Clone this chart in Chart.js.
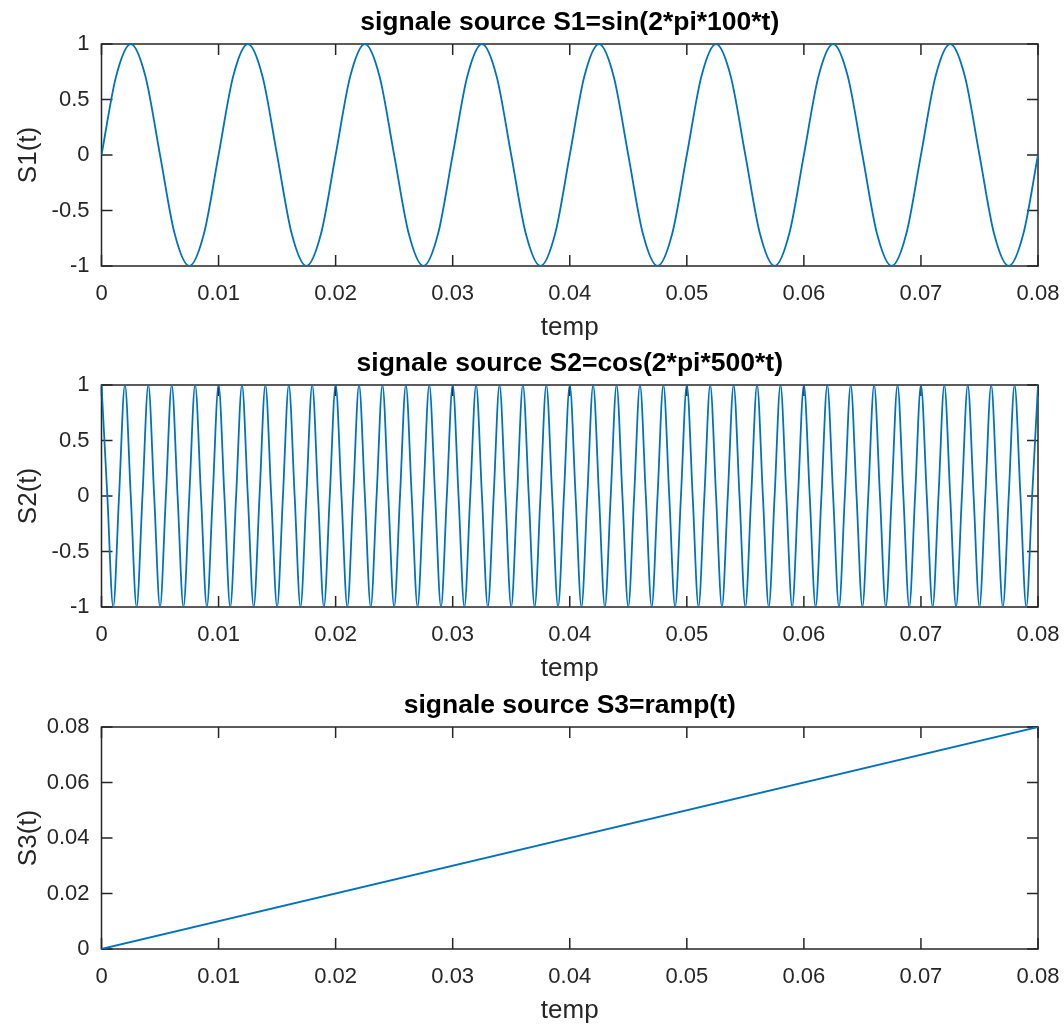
<!DOCTYPE html>
<html>
<head>
<meta charset="utf-8">
<script src="https://cdn.jsdelivr.net/npm/chart.js@4/dist/chart.umd.min.js"></script>
<style>
  html, body { margin: 0; padding: 0; background: #ffffff; width: 1064px; height: 1025px; overflow: hidden; }
  canvas { position: absolute; left: 0; }
</style>
</head>
<body>
<canvas id="c1" width="1064" height="346" style="top:0px"></canvas>
<canvas id="c2" width="1064" height="346" style="top:341px"></canvas>
<canvas id="c3" width="1064" height="346" style="top:683px"></canvas>
<script>
// ---- time axis shared by the three plots ----
const xTicks = [0, 0.01, 0.02, 0.03, 0.04, 0.05, 0.06, 0.07, 0.08];
const xTickLabels = ['0', '0.01', '0.02', '0.03', '0.04', '0.05', '0.06', '0.07', '0.08'];

// ---- S1 = sin(2*pi*100*t) ----
const t1 = [
  0, 0.00125, 0.0025, 0.00375, 0.005, 0.00625, 0.0075, 0.00875,
  0.01, 0.01125, 0.0125, 0.01375, 0.015, 0.01625, 0.0175, 0.01875,
  0.02, 0.02125, 0.0225, 0.02375, 0.025, 0.02625, 0.0275, 0.02875,
  0.03, 0.03125, 0.0325, 0.03375, 0.035, 0.03625, 0.0375, 0.03875,
  0.04, 0.04125, 0.0425, 0.04375, 0.045, 0.04625, 0.0475, 0.04875,
  0.05, 0.05125, 0.0525, 0.05375, 0.055, 0.05625, 0.0575, 0.05875,
  0.06, 0.06125, 0.0625, 0.06375, 0.065, 0.06625, 0.0675, 0.06875,
  0.07, 0.07125, 0.0725, 0.07375, 0.075, 0.07625, 0.0775, 0.07875,
  0.08
];
const s1 = [
  0, 0.71, 1, 0.71, 0, -0.71, -1, -0.71,
  0, 0.71, 1, 0.71, 0, -0.71, -1, -0.71,
  0, 0.71, 1, 0.71, 0, -0.71, -1, -0.71,
  0, 0.71, 1, 0.71, 0, -0.71, -1, -0.71,
  0, 0.71, 1, 0.71, 0, -0.71, -1, -0.71,
  0, 0.71, 1, 0.71, 0, -0.71, -1, -0.71,
  0, 0.71, 1, 0.71, 0, -0.71, -1, -0.71,
  0, 0.71, 1, 0.71, 0, -0.71, -1, -0.71,
  0
];

// ---- S2 = cos(2*pi*500*t) ----
const t2 = [
  0, 0.0005, 0.001, 0.0015, 0.002, 0.0025, 0.003, 0.0035, 0.004, 0.0045, 0.005, 0.0055, 0.006, 0.0065, 0.007, 0.0075, 0.008, 0.0085, 0.009, 0.0095,
  0.01, 0.0105, 0.011, 0.0115, 0.012, 0.0125, 0.013, 0.0135, 0.014, 0.0145, 0.015, 0.0155, 0.016, 0.0165, 0.017, 0.0175, 0.018, 0.0185, 0.019, 0.0195,
  0.02, 0.0205, 0.021, 0.0215, 0.022, 0.0225, 0.023, 0.0235, 0.024, 0.0245, 0.025, 0.0255, 0.026, 0.0265, 0.027, 0.0275, 0.028, 0.0285, 0.029, 0.0295,
  0.03, 0.0305, 0.031, 0.0315, 0.032, 0.0325, 0.033, 0.0335, 0.034, 0.0345, 0.035, 0.0355, 0.036, 0.0365, 0.037, 0.0375, 0.038, 0.0385, 0.039, 0.0395,
  0.04, 0.0405, 0.041, 0.0415, 0.042, 0.0425, 0.043, 0.0435, 0.044, 0.0445, 0.045, 0.0455, 0.046, 0.0465, 0.047, 0.0475, 0.048, 0.0485, 0.049, 0.0495,
  0.05, 0.0505, 0.051, 0.0515, 0.052, 0.0525, 0.053, 0.0535, 0.054, 0.0545, 0.055, 0.0555, 0.056, 0.0565, 0.057, 0.0575, 0.058, 0.0585, 0.059, 0.0595,
  0.06, 0.0605, 0.061, 0.0615, 0.062, 0.0625, 0.063, 0.0635, 0.064, 0.0645, 0.065, 0.0655, 0.066, 0.0665, 0.067, 0.0675, 0.068, 0.0685, 0.069, 0.0695,
  0.07, 0.0705, 0.071, 0.0715, 0.072, 0.0725, 0.073, 0.0735, 0.074, 0.0745, 0.075, 0.0755, 0.076, 0.0765, 0.077, 0.0775, 0.078, 0.0785, 0.079, 0.0795,
  0.08
];
const s2 = [
  1, 0, -1, 0, 1, 0, -1, 0, 1, 0, -1, 0, 1, 0, -1, 0, 1, 0, -1, 0,
  1, 0, -1, 0, 1, 0, -1, 0, 1, 0, -1, 0, 1, 0, -1, 0, 1, 0, -1, 0,
  1, 0, -1, 0, 1, 0, -1, 0, 1, 0, -1, 0, 1, 0, -1, 0, 1, 0, -1, 0,
  1, 0, -1, 0, 1, 0, -1, 0, 1, 0, -1, 0, 1, 0, -1, 0, 1, 0, -1, 0,
  1, 0, -1, 0, 1, 0, -1, 0, 1, 0, -1, 0, 1, 0, -1, 0, 1, 0, -1, 0,
  1, 0, -1, 0, 1, 0, -1, 0, 1, 0, -1, 0, 1, 0, -1, 0, 1, 0, -1, 0,
  1, 0, -1, 0, 1, 0, -1, 0, 1, 0, -1, 0, 1, 0, -1, 0, 1, 0, -1, 0,
  1, 0, -1, 0, 1, 0, -1, 0, 1, 0, -1, 0, 1, 0, -1, 0, 1, 0, -1, 0,
  1
];

// ---- S3 = ramp(t) ----
const t3 = [0, 0.08];
const s3 = [0, 0.08];

// ---- value axes ----
const ySinTicks = [-1, -0.5, 0, 0.5, 1];
const ySinTickLabels = ['-1', '-0.5', '0', '0.5', '1'];
const yRampTicks = [0, 0.02, 0.04, 0.06, 0.08];
const yRampTickLabels = ['0', '0.02', '0.04', '0.06', '0.08'];

const FONT = "'Liberation Sans', Arial, Helvetica, sans-serif";
const AXIS_COLOR = '#262626';
const LINE_COLOR = '#0072BD';

// Box round the plot area with inward tick marks on all four sides
const framePlugin = {
  id: 'frame',
  beforeDatasetsDraw(chart) {
    const { ctx, chartArea: a, scales } = chart;
    const x = scales.x, y = scales.y;
    const len = 11;
    ctx.save();
    ctx.strokeStyle = AXIS_COLOR;
    ctx.lineWidth = 1.5;
    ctx.strokeRect(a.left, a.top, a.right - a.left, a.bottom - a.top);
    ctx.beginPath();
    x.ticks.forEach(t => {
      const px = x.getPixelForValue(t.value);
      ctx.moveTo(px, a.bottom); ctx.lineTo(px, a.bottom - len);
      ctx.moveTo(px, a.top); ctx.lineTo(px, a.top + len);
    });
    y.ticks.forEach(t => {
      const py = y.getPixelForValue(t.value);
      ctx.moveTo(a.left, py); ctx.lineTo(a.left + len, py);
      ctx.moveTo(a.right, py); ctx.lineTo(a.right - len, py);
    });
    ctx.stroke();
    ctx.restore();
  }
};

function makeChart(id, title, yTitle, times, values, yMin, yMax, yTicks, yTickLabels) {
  const pts = times.map((t, i) => ({ x: t, y: values[i] }));
  return new Chart(document.getElementById(id), {
    type: 'line',
    data: {
      datasets: [{
        data: pts,
        borderColor: LINE_COLOR,
        borderWidth: 1.8,
        pointRadius: 0,
        fill: false,
        cubicInterpolationMode: 'monotone'
      }]
    },
    options: {
      responsive: false,
      animation: false,
      devicePixelRatio: 1,
      layout: { padding: { left: 0, right: 26, top: 0, bottom: 0 } },
      plugins: {
        legend: { display: false },
        tooltip: { enabled: false },
        title: {
          display: true,
          text: title,
          fullSize: false,
          color: '#000000',
          font: { family: FONT, size: 26.5, weight: 'bold', lineHeight: 1.2 },
          padding: { top: 7, bottom: 5.2 }
        }
      },
      scales: {
        x: {
          type: 'linear',
          min: 0,
          max: 0.08,
          grid: { display: false, drawTicks: false },
          border: { display: false },
          afterBuildTicks: s => { s.ticks = xTicks.map(v => ({ value: v })); },
          afterFit: s => { s.height = 80; s.paddingLeft = 0; s.paddingRight = 0; },
          ticks: {
            autoSkip: false,
            maxRotation: 0,
            padding: 15,
            color: AXIS_COLOR,
            font: { family: FONT, size: 22 },
            callback: (v, i) => xTickLabels[i]
          },
          title: {
            display: true,
            text: 'temp',
            color: AXIS_COLOR,
            font: { family: FONT, size: 26, lineHeight: 1.2 },
            padding: { top: 0, bottom: 3 }
          }
        },
        y: {
          type: 'linear',
          min: yMin,
          max: yMax,
          grid: { display: false, drawTicks: false },
          border: { display: false },
          afterBuildTicks: s => { s.ticks = yTicks.map(v => ({ value: v })); },
          afterFit: s => { s.width = 101.5; },
          ticks: {
            padding: 12,
            color: AXIS_COLOR,
            font: { family: FONT, size: 22 },
            callback: (v, i) => yTickLabels[i]
          },
          title: {
            display: true,
            text: yTitle,
            color: AXIS_COLOR,
            font: { family: FONT, size: 26, lineHeight: 1.2 },
            padding: { top: 13.5, bottom: 0 }
          }
        }
      }
    },
    plugins: [framePlugin]
  });
}

makeChart('c1', 'signale source S1=sin(2*pi*100*t)', 'S1(t)', t1, s1, -1, 1, ySinTicks, ySinTickLabels);
makeChart('c2', 'signale source S2=cos(2*pi*500*t)', 'S2(t)', t2, s2, -1, 1, ySinTicks, ySinTickLabels);
makeChart('c3', 'signale source S3=ramp(t)', 'S3(t)', t3, s3, 0, 0.08, yRampTicks, yRampTickLabels);
</script>
</body>
</html>
